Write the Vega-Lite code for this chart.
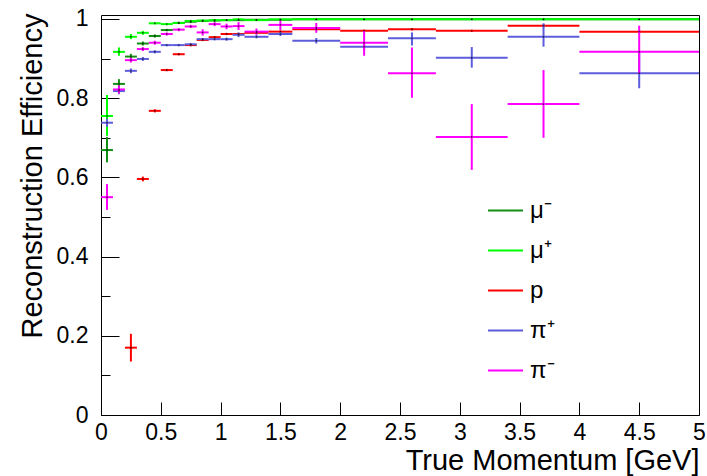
{
  "$schema": "https://vega.github.io/schema/vega-lite/v6.json",
  "width": 598,
  "height": 400,
  "autosize": "none",
  "padding": {"left": 101, "top": 15, "right": 8, "bottom": 61},
  "background": "white",
  "config": {
    "view": {"stroke": "#000000", "strokeWidth": 1},
    "font": "Liberation Sans",
    "axis": {"labelFont": "Liberation Sans", "titleFont": "Liberation Sans", "labelColor": "#000", "titleColor": "#000", "tickColor": "#000", "grid": false, "domain": false, "titleFontWeight": "normal"},
    "axisX": {
      "values": [0,0.1,0.2,0.3,0.4,0.5,0.6,0.7,0.8,0.9,1,1.1,1.2,1.3,1.4,1.5,1.6,1.7,1.8,1.9,2,2.1,2.2,2.3,2.4,2.5,2.6,2.7,2.8,2.9,3,3.1,3.2,3.3,3.4,3.5,3.6,3.7,3.8,3.9,4,4.1,4.2,4.3,4.4,4.5,4.6,4.7,4.8,4.9,5],
      "labelExpr": "abs(datum.value*2 - round(datum.value*2)) < 0.000001 ? format(datum.value, '.1~f') : ''",
      "tickSize": {"condition": {"test": "abs(datum.value*2 - round(datum.value*2)) < 0.000001", "value": -13}, "value": -7},
      "tickWidth": 1,
      "labelFontSize": 23,
      "labelPadding": 19,
      "labelOverlap": false,
      "labelFlush": false,
      "labelBound": false,
      "titleFontSize": 29,
      "titleAnchor": "end",
      "titleAlign": "right",
      "titleBaseline": "alphabetic",
      "titleX": 598,
      "titleY": 54
    },
    "axisY": {
      "values": [0,0.05,0.1,0.15,0.2,0.25,0.3,0.35,0.4,0.45,0.5,0.55,0.6,0.65,0.7,0.75,0.8,0.85,0.9,0.95,1],
      "labelExpr": "abs(datum.value*5 - round(datum.value*5)) < 0.000001 ? format(datum.value, '.1~f') : ''",
      "tickSize": {"condition": {"test": "abs(datum.value*5 - round(datum.value*5)) < 0.000001", "value": -18}, "value": -9},
      "tickWidth": 1,
      "labelFontSize": 23,
      "labelPadding": 31,
      "labelOverlap": false,
      "labelFlush": false,
      "labelBound": false,
      "titleFontSize": 29,
      "titleAnchor": "end",
      "titleAlign": "right",
      "titleAngle": -90,
      "titleBaseline": "alphabetic",
      "titleX": -60,
      "titleY": -2
    },
    "legend": {"labelFont": "Liberation Sans"}
  },
  "data": {"values": [
    {"s": "μ⁻", "xlo": 0.0, "xhi": 0.1, "xc": 0.05, "y": 0.669, "lo": 0.638, "hi": 0.702},
    {"s": "μ⁻", "xlo": 0.1, "xhi": 0.2, "xc": 0.15, "y": 0.836, "lo": 0.824, "hi": 0.848},
    {"s": "μ⁻", "xlo": 0.2, "xhi": 0.3, "xc": 0.25, "y": 0.905, "lo": 0.898, "hi": 0.912},
    {"s": "μ⁻", "xlo": 0.3, "xhi": 0.4, "xc": 0.35, "y": 0.938, "lo": 0.933, "hi": 0.943},
    {"s": "μ⁻", "xlo": 0.4, "xhi": 0.5, "xc": 0.45, "y": 0.957, "lo": 0.953, "hi": 0.961},
    {"s": "μ⁻", "xlo": 0.5, "xhi": 0.6, "xc": 0.55, "y": 0.972, "lo": 0.969, "hi": 0.975},
    {"s": "μ⁻", "xlo": 0.6, "xhi": 0.7, "xc": 0.65, "y": 0.990, "lo": 0.987, "hi": 0.993},
    {"s": "μ⁻", "xlo": 0.7, "xhi": 0.8, "xc": 0.75, "y": 0.993, "lo": 0.990, "hi": 0.996},
    {"s": "μ⁻", "xlo": 0.8, "xhi": 0.9, "xc": 0.85, "y": 0.995, "lo": 0.992, "hi": 0.998},
    {"s": "μ⁻", "xlo": 0.9, "xhi": 1.0, "xc": 0.95, "y": 0.996, "lo": 0.993, "hi": 0.999},
    {"s": "μ⁻", "xlo": 1.0, "xhi": 1.1, "xc": 1.05, "y": 0.997, "lo": 0.995, "hi": 0.999},
    {"s": "μ⁻", "xlo": 1.1, "xhi": 1.2, "xc": 1.15, "y": 0.997, "lo": 0.995, "hi": 0.999},
    {"s": "μ⁻", "xlo": 1.2, "xhi": 1.4, "xc": 1.3, "y": 0.998, "lo": 0.996, "hi": 1.0},
    {"s": "μ⁻", "xlo": 1.4, "xhi": 1.6, "xc": 1.5, "y": 0.998, "lo": 0.996, "hi": 1.0},
    {"s": "μ⁻", "xlo": 1.6, "xhi": 2.0, "xc": 1.8, "y": 0.999, "lo": 0.997, "hi": 1.0},
    {"s": "μ⁻", "xlo": 2.0, "xhi": 2.4, "xc": 2.2, "y": 0.999, "lo": 0.997, "hi": 1.0},
    {"s": "μ⁻", "xlo": 2.4, "xhi": 2.8, "xc": 2.6, "y": 0.999, "lo": 0.997, "hi": 1.0},
    {"s": "μ⁻", "xlo": 2.8, "xhi": 3.4, "xc": 3.1, "y": 0.999, "lo": 0.997, "hi": 1.0},
    {"s": "μ⁻", "xlo": 3.4, "xhi": 4.0, "xc": 3.7, "y": 0.999, "lo": 0.997, "hi": 1.0},
    {"s": "μ⁻", "xlo": 4.0, "xhi": 5.0, "xc": 4.5, "y": 0.999, "lo": 0.997, "hi": 1.0},

    {"s": "μ⁺", "xlo": 0.0, "xhi": 0.1, "xc": 0.05, "y": 0.755, "lo": 0.705, "hi": 0.808},
    {"s": "μ⁺", "xlo": 0.1, "xhi": 0.2, "xc": 0.15, "y": 0.917, "lo": 0.907, "hi": 0.928},
    {"s": "μ⁺", "xlo": 0.2, "xhi": 0.3, "xc": 0.25, "y": 0.955, "lo": 0.949, "hi": 0.962},
    {"s": "μ⁺", "xlo": 0.3, "xhi": 0.4, "xc": 0.35, "y": 0.965, "lo": 0.960, "hi": 0.970},
    {"s": "μ⁺", "xlo": 0.4, "xhi": 0.5, "xc": 0.45, "y": 0.989, "lo": 0.986, "hi": 0.992},
    {"s": "μ⁺", "xlo": 0.5, "xhi": 0.6, "xc": 0.55, "y": 0.987, "lo": 0.984, "hi": 0.990},
    {"s": "μ⁺", "xlo": 0.6, "xhi": 0.7, "xc": 0.65, "y": 0.990, "lo": 0.988, "hi": 0.992},
    {"s": "μ⁺", "xlo": 0.7, "xhi": 0.8, "xc": 0.75, "y": 0.995, "lo": 0.993, "hi": 0.997},
    {"s": "μ⁺", "xlo": 0.8, "xhi": 0.9, "xc": 0.85, "y": 0.996, "lo": 0.994, "hi": 0.998},
    {"s": "μ⁺", "xlo": 0.9, "xhi": 1.0, "xc": 0.95, "y": 0.997, "lo": 0.995, "hi": 0.999},
    {"s": "μ⁺", "xlo": 1.0, "xhi": 1.1, "xc": 1.05, "y": 0.997, "lo": 0.995, "hi": 0.999},
    {"s": "μ⁺", "xlo": 1.1, "xhi": 1.2, "xc": 1.15, "y": 0.999, "lo": 0.997, "hi": 1.0},
    {"s": "μ⁺", "xlo": 1.2, "xhi": 1.4, "xc": 1.3, "y": 0.997, "lo": 0.995, "hi": 0.999},
    {"s": "μ⁺", "xlo": 1.4, "xhi": 1.6, "xc": 1.5, "y": 0.999, "lo": 0.997, "hi": 1.0},
    {"s": "μ⁺", "xlo": 1.6, "xhi": 2.0, "xc": 1.8, "y": 0.999, "lo": 0.998, "hi": 1.0},
    {"s": "μ⁺", "xlo": 2.0, "xhi": 2.4, "xc": 2.2, "y": 0.999, "lo": 0.998, "hi": 1.0},
    {"s": "μ⁺", "xlo": 2.4, "xhi": 2.8, "xc": 2.6, "y": 0.999, "lo": 0.998, "hi": 1.0},
    {"s": "μ⁺", "xlo": 2.8, "xhi": 3.4, "xc": 3.1, "y": 0.999, "lo": 0.998, "hi": 1.0},
    {"s": "μ⁺", "xlo": 3.4, "xhi": 4.0, "xc": 3.7, "y": 0.999, "lo": 0.998, "hi": 1.0},
    {"s": "μ⁺", "xlo": 4.0, "xhi": 5.0, "xc": 4.5, "y": 0.999, "lo": 0.998, "hi": 1.0},

    {"s": "p", "xlo": 0.2, "xhi": 0.3, "xc": 0.25, "y": 0.170, "lo": 0.135, "hi": 0.205},
    {"s": "p", "xlo": 0.3, "xhi": 0.4, "xc": 0.35, "y": 0.596, "lo": 0.590, "hi": 0.602},
    {"s": "p", "xlo": 0.4, "xhi": 0.5, "xc": 0.45, "y": 0.768, "lo": 0.764, "hi": 0.772},
    {"s": "p", "xlo": 0.5, "xhi": 0.6, "xc": 0.55, "y": 0.871, "lo": 0.868, "hi": 0.874},
    {"s": "p", "xlo": 0.6, "xhi": 0.7, "xc": 0.65, "y": 0.911, "lo": 0.908, "hi": 0.914},
    {"s": "p", "xlo": 0.7, "xhi": 0.8, "xc": 0.75, "y": 0.934, "lo": 0.931, "hi": 0.937},
    {"s": "p", "xlo": 0.8, "xhi": 0.9, "xc": 0.85, "y": 0.947, "lo": 0.944, "hi": 0.950},
    {"s": "p", "xlo": 0.9, "xhi": 1.0, "xc": 0.95, "y": 0.954, "lo": 0.951, "hi": 0.957},
    {"s": "p", "xlo": 1.0, "xhi": 1.1, "xc": 1.05, "y": 0.962, "lo": 0.959, "hi": 0.965},
    {"s": "p", "xlo": 1.1, "xhi": 1.2, "xc": 1.15, "y": 0.962, "lo": 0.959, "hi": 0.965},
    {"s": "p", "xlo": 1.2, "xhi": 1.4, "xc": 1.3, "y": 0.965, "lo": 0.962, "hi": 0.968},
    {"s": "p", "xlo": 1.4, "xhi": 1.6, "xc": 1.5, "y": 0.968, "lo": 0.965, "hi": 0.971},
    {"s": "p", "xlo": 1.6, "xhi": 2.0, "xc": 1.8, "y": 0.974, "lo": 0.971, "hi": 0.977},
    {"s": "p", "xlo": 2.0, "xhi": 2.4, "xc": 2.2, "y": 0.970, "lo": 0.967, "hi": 0.973},
    {"s": "p", "xlo": 2.4, "xhi": 2.8, "xc": 2.6, "y": 0.974, "lo": 0.971, "hi": 0.977},
    {"s": "p", "xlo": 2.8, "xhi": 3.4, "xc": 3.1, "y": 0.970, "lo": 0.967, "hi": 0.973},
    {"s": "p", "xlo": 3.4, "xhi": 4.0, "xc": 3.7, "y": 0.983, "lo": 0.979, "hi": 0.987},
    {"s": "p", "xlo": 4.0, "xhi": 5.0, "xc": 4.5, "y": 0.968, "lo": 0.964, "hi": 0.972},

    {"s": "π⁺", "xlo": 0.0, "xhi": 0.1, "xc": 0.05, "y": 0.738, "lo": 0.728, "hi": 0.748},
    {"s": "π⁺", "xlo": 0.1, "xhi": 0.2, "xc": 0.15, "y": 0.818, "lo": 0.810, "hi": 0.826},
    {"s": "π⁺", "xlo": 0.2, "xhi": 0.3, "xc": 0.25, "y": 0.869, "lo": 0.863, "hi": 0.875},
    {"s": "π⁺", "xlo": 0.3, "xhi": 0.4, "xc": 0.35, "y": 0.899, "lo": 0.894, "hi": 0.904},
    {"s": "π⁺", "xlo": 0.4, "xhi": 0.5, "xc": 0.45, "y": 0.917, "lo": 0.913, "hi": 0.921},
    {"s": "π⁺", "xlo": 0.5, "xhi": 0.6, "xc": 0.55, "y": 0.934, "lo": 0.931, "hi": 0.937},
    {"s": "π⁺", "xlo": 0.6, "xhi": 0.7, "xc": 0.65, "y": 0.934, "lo": 0.931, "hi": 0.937},
    {"s": "π⁺", "xlo": 0.7, "xhi": 0.8, "xc": 0.75, "y": 0.936, "lo": 0.933, "hi": 0.939},
    {"s": "π⁺", "xlo": 0.8, "xhi": 0.9, "xc": 0.85, "y": 0.949, "lo": 0.946, "hi": 0.952},
    {"s": "π⁺", "xlo": 0.9, "xhi": 1.0, "xc": 0.95, "y": 0.949, "lo": 0.946, "hi": 0.952},
    {"s": "π⁺", "xlo": 1.0, "xhi": 1.1, "xc": 1.05, "y": 0.949, "lo": 0.945, "hi": 0.953},
    {"s": "π⁺", "xlo": 1.1, "xhi": 1.2, "xc": 1.15, "y": 0.960, "lo": 0.954, "hi": 0.966},
    {"s": "π⁺", "xlo": 1.2, "xhi": 1.4, "xc": 1.3, "y": 0.955, "lo": 0.951, "hi": 0.959},
    {"s": "π⁺", "xlo": 1.4, "xhi": 1.6, "xc": 1.5, "y": 0.962, "lo": 0.957, "hi": 0.967},
    {"s": "π⁺", "xlo": 1.6, "xhi": 2.0, "xc": 1.8, "y": 0.945, "lo": 0.938, "hi": 0.952},
    {"s": "π⁺", "xlo": 2.0, "xhi": 2.4, "xc": 2.2, "y": 0.930, "lo": 0.922, "hi": 0.938},
    {"s": "π⁺", "xlo": 2.4, "xhi": 2.8, "xc": 2.6, "y": 0.951, "lo": 0.933, "hi": 0.966},
    {"s": "π⁺", "xlo": 2.8, "xhi": 3.4, "xc": 3.1, "y": 0.902, "lo": 0.877, "hi": 0.929},
    {"s": "π⁺", "xlo": 3.4, "xhi": 4.0, "xc": 3.7, "y": 0.955, "lo": 0.930, "hi": 0.989},
    {"s": "π⁺", "xlo": 4.0, "xhi": 5.0, "xc": 4.5, "y": 0.863, "lo": 0.825, "hi": 0.917},

    {"s": "π⁻", "xlo": 0.0, "xhi": 0.1, "xc": 0.05, "y": 0.550, "lo": 0.518, "hi": 0.583},
    {"s": "π⁻", "xlo": 0.1, "xhi": 0.2, "xc": 0.15, "y": 0.822, "lo": 0.812, "hi": 0.832},
    {"s": "π⁻", "xlo": 0.2, "xhi": 0.3, "xc": 0.25, "y": 0.896, "lo": 0.890, "hi": 0.902},
    {"s": "π⁻", "xlo": 0.3, "xhi": 0.4, "xc": 0.35, "y": 0.924, "lo": 0.919, "hi": 0.929},
    {"s": "π⁻", "xlo": 0.4, "xhi": 0.5, "xc": 0.45, "y": 0.940, "lo": 0.935, "hi": 0.945},
    {"s": "π⁻", "xlo": 0.5, "xhi": 0.6, "xc": 0.55, "y": 0.962, "lo": 0.958, "hi": 0.966},
    {"s": "π⁻", "xlo": 0.6, "xhi": 0.7, "xc": 0.65, "y": 0.973, "lo": 0.969, "hi": 0.977},
    {"s": "π⁻", "xlo": 0.7, "xhi": 0.8, "xc": 0.75, "y": 0.981, "lo": 0.977, "hi": 0.985},
    {"s": "π⁻", "xlo": 0.8, "xhi": 0.9, "xc": 0.85, "y": 0.966, "lo": 0.958, "hi": 0.974},
    {"s": "π⁻", "xlo": 0.9, "xhi": 1.0, "xc": 0.95, "y": 0.987, "lo": 0.982, "hi": 0.992},
    {"s": "π⁻", "xlo": 1.0, "xhi": 1.1, "xc": 1.05, "y": 0.981, "lo": 0.974, "hi": 0.988},
    {"s": "π⁻", "xlo": 1.1, "xhi": 1.2, "xc": 1.15, "y": 0.982, "lo": 0.972, "hi": 0.992},
    {"s": "π⁻", "xlo": 1.2, "xhi": 1.4, "xc": 1.3, "y": 0.968, "lo": 0.960, "hi": 0.976},
    {"s": "π⁻", "xlo": 1.4, "xhi": 1.6, "xc": 1.5, "y": 0.985, "lo": 0.972, "hi": 0.996},
    {"s": "π⁻", "xlo": 1.6, "xhi": 2.0, "xc": 1.8, "y": 0.977, "lo": 0.965, "hi": 0.990},
    {"s": "π⁻", "xlo": 2.0, "xhi": 2.4, "xc": 2.2, "y": 0.940, "lo": 0.907, "hi": 0.970},
    {"s": "π⁻", "xlo": 2.4, "xhi": 2.8, "xc": 2.6, "y": 0.863, "lo": 0.801, "hi": 0.928},
    {"s": "π⁻", "xlo": 2.8, "xhi": 3.4, "xc": 3.1, "y": 0.702, "lo": 0.619, "hi": 0.785},
    {"s": "π⁻", "xlo": 3.4, "xhi": 4.0, "xc": 3.7, "y": 0.785, "lo": 0.700, "hi": 0.871},
    {"s": "π⁻", "xlo": 4.0, "xhi": 5.0, "xc": 4.5, "y": 0.917, "lo": 0.863, "hi": 0.983}
  ]},
  "layer": [
    {
      "mark": {"type": "rule", "strokeWidth": 2, "clip": true},
      "encoding": {
        "x": {"field": "xlo", "type": "quantitative", "title": "True Momentum [GeV]",
          "scale": {"domain": [0, 5], "nice": false, "zero": false}},
        "x2": {"field": "xhi"},
        "y": {"field": "y", "type": "quantitative", "title": "Reconstruction Efficiency",
          "scale": {"domain": [0, 1.01], "nice": false, "zero": false}},
        "color": {"field": "s", "type": "nominal",
          "scale": {"domain": ["μ⁻", "μ⁺", "p", "π⁺", "π⁻"], "range": ["#138f13", "#00ff00", "#ff0000", "#5c5cdc", "#ff00ff"]},
          "sort": ["μ⁻", "μ⁺", "p", "π⁺", "π⁻"],
          "legend": {
            "orient": "none", "legendX": 386, "legendY": 177,
            "title": null, "symbolType": "stroke", "symbolSize": 1225, "symbolStrokeWidth": 2,
            "labelFontSize": 24, "labelOffset": 6, "rowPadding": 9, "padding": 0, "labelColor": "#000"
          }
        }
      }
    },
    {
      "mark": {"type": "rule", "strokeWidth": 2, "clip": true},
      "encoding": {
        "x": {"field": "xc", "type": "quantitative", "title": "True Momentum [GeV]"},
        "y": {"field": "lo", "type": "quantitative", "title": "Reconstruction Efficiency"},
        "y2": {"field": "hi"},
        "color": {"field": "s", "type": "nominal"}
      }
    },
    {
      "mark": {"type": "square", "size": 2, "filled": true, "color": "#000000", "opacity": 0.7, "clip": true},
      "encoding": {
        "x": {"field": "xc", "type": "quantitative", "title": "True Momentum [GeV]"},
        "y": {"field": "y", "type": "quantitative", "title": "Reconstruction Efficiency"}
      }
    }
  ]
}
